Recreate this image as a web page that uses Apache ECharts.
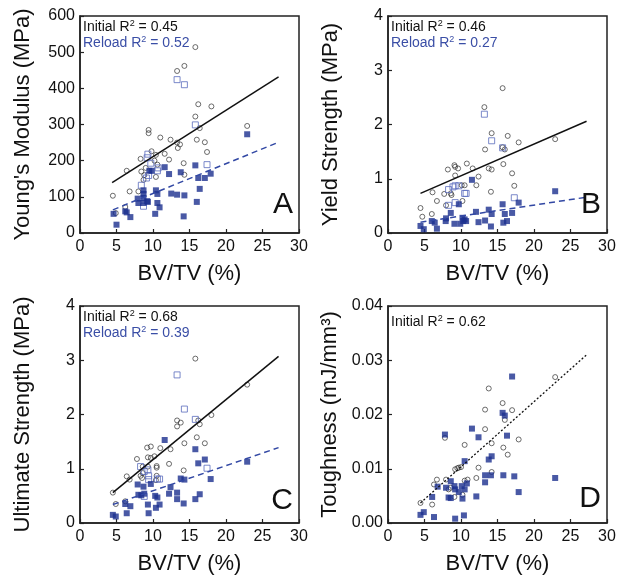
<!DOCTYPE html>
<html><head><meta charset="utf-8">
<script src="https://cdn.jsdelivr.net/npm/echarts@6/dist/echarts.min.js"></script>
<style>html,body{margin:0;padding:0;background:#fff}#c{width:623px;height:583px}</style>
</head><body><div id="c"></div>
<script>
// ---------- data ----------
const xTickLabels = ['0','5','10','15','20','25','30'];
const panelLetters = ['A','B','C','D'];
const yTitles = ["Young's Modulus (MPa)", 'Yield Strength (MPa)', 'Ultimate Strength (MPa)', 'Toughness (mJ/mm\u00B3)'];
const xTitle = 'BV/TV (%)';
const initialR2 = ['0.45','0.46','0.68','0.62'];
const reloadR2 = ['0.52','0.27','0.39',null];

// Panel A: Young's modulus (MPa)
const aInitial = [[4.5,103],[4.9,55],[6.4,172],[6.8,115],[8.3,205],[8.0,115],[8.4,170],[8.7,147],[9.4,285],[9.4,276],[9.8,226],[10.4,216],[10.6,189],[10.4,155],[11.0,264],[11.6,219],[12.2,203],[12.4,258],[13.3,250],[13.4,235],[13.7,245],[14.2,193],[14.3,161],[13.3,448],[14.3,462],[15.8,514],[15.8,322],[16.2,356],[16.4,290],[16.0,258],[17.1,251],[17.4,224],[18.0,350],[22.9,296],[6.2,72],[9.0,180],[10.2,200],[8.8,160]];
const aReload = [[4.6,53],[5.0,23],[6.2,60],[6.4,57],[6.9,44],[7.9,95],[8.0,83],[8.7,118],[8.7,108],[8.7,97],[8.7,83],[9.3,86],[9.2,88],[9.5,172],[9.8,172],[10.3,53],[10.4,118],[10.6,108],[10.6,83],[10.9,71],[11.6,182],[12.2,163],[12.5,109],[13.3,106],[13.8,168],[14.3,104],[14.2,46],[15.8,187],[16.0,86],[16.2,152],[16.4,122],[17.1,152],[17.9,164],[22.9,273]];
const aReloadOpen = [[13.3,424],[14.3,410],[15.8,299],[17.4,189],[9.3,218],[9.2,208],[8.4,132],[8.7,74],[9.1,152],[9.4,159],[9.7,193],[10.6,172],[10.7,180]];
const aFitInitial = [[4.4,139],[27.2,432]];
const aFitReload = [[4.5,64],[27.2,251]];

// Panel B: Yield strength (MPa)
const bInitial = [[4.45,0.46],[4.7,0.30],[6.1,0.75],[6.0,0.35],[6.7,0.59],[7.7,0.72],[7.95,0.51],[8.2,1.17],[8.6,0.73],[8.7,0.70],[9.1,1.25],[9.2,1.22],[9.2,1.06],[9.6,1.19],[10.1,0.88],[10.5,0.88],[10.2,0.59],[10.8,1.28],[11.6,1.19],[12.1,0.88],[12.4,1.04],[13.2,2.32],[13.3,1.54],[13.8,1.19],[14.2,1.84],[14.2,1.17],[14.1,0.76],[15.7,2.67],[15.7,1.58],[16.0,1.54],[15.8,1.27],[16.4,1.79],[17.0,1.10],[17.3,0.87],[17.9,1.67],[22.9,1.73]];
const bReload = [[4.45,0.13],[4.9,0.07],[6.0,0.22],[6.4,0.19],[6.7,0.08],[7.9,0.22],[7.95,0.27],[8.6,0.37],[9.1,0.17],[9.7,0.53],[9.9,0.17],[10.2,0.28],[10.3,0.22],[10.5,0.25],[10.7,0.22],[11.5,0.98],[12.05,0.39],[12.4,0.20],[13.3,0.23],[13.8,0.43],[14.1,0.12],[14.2,0.35],[15.7,0.53],[15.8,0.19],[16.0,0.35],[16.3,0.22],[17.0,0.37],[17.9,0.56],[22.9,0.77]];
const bReloadOpen = [[13.2,2.19],[14.2,1.70],[15.7,1.57],[8.3,0.51],[8.3,0.80],[8.9,0.85],[9.2,0.87],[9.7,0.87],[9.2,0.56],[10.5,0.73],[10.7,0.73],[17.3,0.65]];
const bFitInitial = [[4.45,0.73],[27.2,2.06]];
const bFitReload = [[4.45,0.20],[27.2,0.66]];

// Panel C: Ultimate strength (MPa)
const cInitial = [[4.5,0.56],[4.9,0.35],[6.2,0.40],[6.4,0.86],[6.8,0.80],[7.8,1.18],[8.3,0.87],[8.6,0.92],[8.5,0.83],[8.6,1.04],[9.2,1.39],[9.7,1.41],[9.3,1.21],[9.7,1.20],[9.3,1.04],[10.2,1.23],[10.5,1.05],[10.5,1.02],[10.5,0.87],[10.4,0.79],[11.0,1.38],[12.2,1.09],[12.4,1.36],[13.3,1.89],[13.8,1.85],[13.3,1.78],[14.3,1.47],[14.2,0.97],[15.8,3.03],[16.0,1.58],[16.2,1.89],[16.4,1.82],[17.1,1.47],[18.0,1.99],[22.9,2.55]];
const cReload = [[4.5,0.15],[4.9,0.12],[6.2,0.35],[6.4,0.18],[6.9,0.31],[7.9,0.71],[8.0,0.52],[8.4,0.51],[8.7,0.67],[8.8,0.54],[9.3,0.34],[9.4,0.18],[9.7,0.72],[10.3,0.50],[10.4,0.28],[10.6,0.47],[10.9,0.34],[11.6,1.53],[12.2,0.54],[12.4,0.66],[13.3,0.56],[13.3,0.44],[13.8,0.82],[14.3,0.80],[14.2,0.36],[15.8,1.36],[15.8,0.44],[16.2,1.10],[16.4,0.53],[17.1,1.17],[17.9,0.81],[22.9,1.13]];
const cReloadOpen = [[13.3,2.73],[14.3,2.10],[15.8,1.91],[17.4,1.01],[8.3,1.04],[8.8,0.95],[9.3,0.98],[9.4,0.87],[9.4,0.80],[8.8,0.49],[10.6,0.81],[10.9,0.81]];
const cFitInitial = [[4.5,0.56],[27.2,3.07]];
const cFitReload = [[4.5,0.34],[27.2,1.39]];

// Panel D: Toughness (mJ/mm^3)
const dInitial = [[4.45,0.0037],[6.05,0.0034],[6.3,0.0071],[6.7,0.0080],[7.95,0.0080],[7.8,0.0157],[8.3,0.0062],[8.6,0.0065],[9.2,0.0099],[9.5,0.0101],[9.7,0.0102],[10.0,0.0103],[10.5,0.0144],[10.5,0.0078],[10.9,0.0080],[9.1,0.0048],[10.2,0.0052],[12.1,0.0083],[12.4,0.0102],[13.3,0.0209],[13.3,0.0173],[13.8,0.0248],[14.2,0.0147],[14.2,0.0094],[15.7,0.0221],[15.8,0.0139],[16.0,0.0190],[16.4,0.0126],[17.0,0.0208],[17.9,0.0154],[22.9,0.0269]];
const dReload = [[4.45,0.0015],[4.9,0.0020],[6.05,0.0048],[6.3,0.0011],[6.8,0.0067],[7.8,0.0163],[7.95,0.0065],[8.3,0.0047],[8.6,0.0077],[8.6,0.0046],[9.1,0.0068],[9.2,0.0062],[9.2,0.0008],[9.7,0.0057],[10.1,0.0068],[10.2,0.0045],[10.4,0.0014],[10.5,0.0062],[10.5,0.0114],[10.8,0.0073],[11.5,0.0174],[12.1,0.0049],[12.4,0.0158],[13.3,0.0088],[13.3,0.0075],[13.8,0.0117],[14.1,0.0088],[14.2,0.0123],[15.7,0.0203],[15.8,0.0088],[16.0,0.0198],[16.3,0.0161],[17.0,0.0270],[17.3,0.0086],[17.9,0.0057],[22.9,0.0083]];
const dReloadOpen = [];
const dFitInitial = [[4.45,0.0037],[27.2,0.0310]];

const yMax = [600, 4, 4, 0.04];
const yStep = [100, 1, 1, 0.01];
const yDecimals = [0, 0, 0, 2];

// ---------- layout & style ----------
const FONT = 'Liberation Sans, Arial, sans-serif';
const BLUE = '#1c2f8f';
const BLUE_TXT = '#3a4ea6';
const BLUE_OPEN = '#5a6bbd';
const grids = [
  {left:80, top:16, width:219, height:217},
  {left:388, top:16, width:219, height:217},
  {left:80, top:306, width:219, height:217},
  {left:388, top:306, width:219, height:217}
];
const panels = [
  {init:aInitial, rel:aReload, open:aReloadOpen, fi:aFitInitial, fr:aFitReload},
  {init:bInitial, rel:bReload, open:bReloadOpen, fi:bFitInitial, fr:bFitReload},
  {init:cInitial, rel:cReload, open:cReloadOpen, fi:cFitInitial, fr:cFitReload},
  {init:dInitial, rel:dReload, open:dReloadOpen, fi:dFitInitial, fr:null}
];
const letterOffset = [28, 28, 22, 24];

const chart = echarts.init(document.getElementById('c'), null, {renderer:'canvas'});
const xAxis = [], yAxis = [], series = [], graphic = [];
grids.forEach((g, i) => {
  xAxis.push({
    gridIndex:i, type:'value', min:0, max:30, interval:5,
    name:xTitle, nameLocation:'middle', nameGap:30,
    nameTextStyle:{fontFamily:FONT, fontSize:22, color:'#111'},
    axisLine:{show:true, onZero:false, lineStyle:{color:'#222', width:1.5}},
    axisTick:{show:true, inside:true, length:4, lineStyle:{color:'#222', width:1.2}},
    axisLabel:{fontFamily:FONT, fontSize:16, color:'#111', margin:6,
      formatter:v => xTickLabels[Math.round(v/5)]},
    splitLine:{show:false}
  });
  yAxis.push({
    gridIndex:i, type:'value', min:0, max:yMax[i], interval:yStep[i],
    name:yTitles[i], nameLocation:'middle', nameGap: i===3 ? 47 : 46, nameRotate:90,
    nameTextStyle:{fontFamily:FONT, fontSize:22, color:'#111'},
    axisLine:{show:true, onZero:false, lineStyle:{color:'#222', width:1.5}},
    axisTick:{show:true, inside:true, length:4, lineStyle:{color:'#222', width:1.2}},
    axisLabel:{fontFamily:FONT, fontSize:16, color:'#111', margin:5,
      formatter:v => v.toFixed(yDecimals[i])},
    splitLine:{show:false}
  });
  const p = panels[i];
  series.push({type:'scatter', xAxisIndex:i, yAxisIndex:i, data:p.init, symbol:'circle', symbolSize:5,
    itemStyle:{color:'rgba(255,255,255,0)', borderColor:'#333', borderWidth:0.9}, z:3});
  if (p.open.length) series.push({type:'scatter', xAxisIndex:i, yAxisIndex:i, data:p.open, symbol:'rect', symbolSize:6,
    itemStyle:{color:'rgba(255,255,255,0)', borderColor:BLUE_OPEN, borderWidth:1}, z:3});
  series.push({type:'scatter', xAxisIndex:i, yAxisIndex:i, data:p.rel, symbol:'rect', symbolSize:6,
    itemStyle:{color:BLUE}, z:4});
  series.push({type:'line', xAxisIndex:i, yAxisIndex:i, data:p.fi, symbol:'none', silent:true,
    lineStyle: i===3 ? {color:'#111', width:1.3, type:[2,2]} : {color:'#111', width:1.5}, z:5});
  if (p.fr) series.push({type:'line', xAxisIndex:i, yAxisIndex:i, data:p.fr, symbol:'none', silent:true,
    lineStyle:{color:'#3248a4', width:1.5, type:[6,4]}, z:5});

  // R^2 annotations
  const tTop = i===3 ? g.top + 8 : g.top + 3;
  graphic.push({type:'text', left:g.left + 3, top:tTop, z:10, style:{
    text:'{a|Initial R}{s|2}{a| = ' + initialR2[i] + '}',
    rich:{a:{fontFamily:FONT, fontSize:14, fill:'#111', lineHeight:16},
          s:{fontFamily:FONT, fontSize:9, fill:'#111', verticalAlign:'top', lineHeight:16}}
  }});
  if (reloadR2[i]) graphic.push({type:'text', left:g.left + 3, top:g.top + 19, z:10, style:{
    text:'{a|Reload R}{s|2}{a| = ' + reloadR2[i] + '}',
    rich:{a:{fontFamily:FONT, fontSize:14, fill:BLUE_TXT, lineHeight:16},
          s:{fontFamily:FONT, fontSize:9, fill:BLUE_TXT, verticalAlign:'top', lineHeight:16}}
  }});
  graphic.push({type:'text', x:g.left + g.width - 6, y:g.top + g.height - letterOffset[i], z:10, style:{
    text:panelLetters[i], fontFamily:FONT, fontSize:30, fill:'#111', align:'right', verticalAlign:'middle'
  }});
});

chart.setOption({
  animation:false,
  backgroundColor:'#fff',
  grid:grids.map(g => Object.assign({show:true, borderColor:'#222', borderWidth:1.5, backgroundColor:'transparent'}, g)),
  xAxis, yAxis, series, graphic
});
</script>
</body></html>
